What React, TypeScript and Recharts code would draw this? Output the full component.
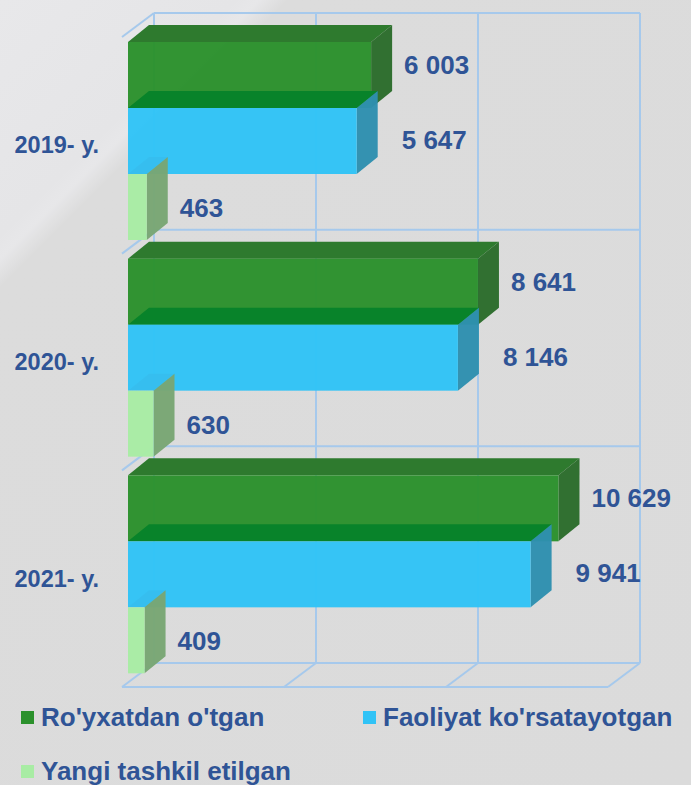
import { Bar, BarChart, CartesianGrid, LabelList, Legend, XAxis, YAxis } from "recharts";

const YEARS = ["2019- y.", "2020- y.", "2021- y."];
const REGISTERED = [6003, 8641, 10629];
const ACTIVE = [5647, 8146, 9941];
const CREATED = [463, 630, 409];
const SERIES_NAMES = ["Ro'yxatdan o'tgan", "Faoliyat ko'rsatayotgan", "Yangi tashkil etilgan"];
const SERIES_COLORS = ["#2b912c", "#31c3f6", "#a8eca4"];
const X_DOMAIN = [0, 12000];
const X_TICKS = [0, 4000, 8000, 12000];

const data = YEARS.map((year, i) => ({
  year,
  registered: REGISTERED[i],
  active: ACTIVE[i],
  created: CREATED[i],
}));

const TEXT = "#2f5496";
const FONT = "'Liberation Sans', Arial, sans-serif";
const GRID = "#a6c9ec";

// bar depth and wall offsets (relative to the bars' front plane)
const BAR_DX = 21;
const BAR_DY = -17;
const BACK_DX = 26;
const BACK_DY = -20;
const FRONT_DX = -6;
const FRONT_DY = 4;

const fmt = (v: number) => String(v).replace(/\B(?=(\d{3})+(?!\d))/g, " ");

function box(front: string, top: string, topOpacity: number, side: string) {
  return (props: any) => {
    const { x, y, width, height } = props;
    if (!width || width <= 0) return null;
    const r = x + width;
    return (
      <g>
        <polygon
          points={`${x},${y} ${x + BAR_DX},${y + BAR_DY} ${r + BAR_DX},${y + BAR_DY} ${r},${y}`}
          fill={top}
          fillOpacity={topOpacity}
        />
        <polygon
          points={`${r},${y} ${r + BAR_DX},${y + BAR_DY} ${r + BAR_DX},${y + height + BAR_DY} ${r},${y + height}`}
          fill={side}
          fillOpacity={0.97}
        />
        <rect x={x} y={y} width={width} height={height} fill={front} fillOpacity={0.97} />
      </g>
    );
  };
}

function valueLabel(dx: number, dy: number) {
  return (props: any) => {
    const { x, y, width, height, value } = props;
    return (
      <text
        x={x + width + BAR_DX + dx}
        y={y + height / 2 + dy}
        dominantBaseline="central"
        fill={TEXT}
        fontSize={26}
        fontWeight={700}
        fontFamily={FONT}
      >
        {fmt(value)}
      </text>
    );
  };
}

// x positions of the grid lines, from the x axis scale
function verticalCoords(args: any) {
  const scale = args?.xAxis?.scale;
  if (typeof scale === "function") return X_TICKS.map((t) => scale(t));
  if (scale && typeof scale.map === "function") return X_TICKS.map((t) => scale.map(t));
  const { left, width } = args.offset;
  return X_TICKS.map((t) => left + ((t - X_DOMAIN[0]) / (X_DOMAIN[1] - X_DOMAIN[0])) * width);
}

// draws the 3D frame: back wall, left wall and floor lines
function gridLine(p: any) {
  const top = p.y;
  const bottom = p.y + p.height;
  const left = p.x;
  const right = p.x + p.width;
  const xt = p.x1;
  const lines: any[] = [
    [xt + BACK_DX, top + BACK_DY, xt + BACK_DX, bottom + BACK_DY],
    [xt + FRONT_DX, bottom + FRONT_DY, xt + BACK_DX, bottom + BACK_DY],
  ];
  if (p.index === 0) {
    lines.push([left + FRONT_DX, bottom + FRONT_DY, right + FRONT_DX, bottom + FRONT_DY]);
    for (let i = 0; i <= YEARS.length; i++) {
      const yb = top + (p.height * i) / YEARS.length;
      lines.push([left + BACK_DX, yb + BACK_DY, right + BACK_DX, yb + BACK_DY]);
      if (i < YEARS.length) lines.push([left + FRONT_DX, yb + FRONT_DY, left + BACK_DX, yb + BACK_DY]);
    }
  }
  return (
    <g key={p.key}>
      {lines.map((l, i) => (
        <line key={i} x1={l[0]} y1={l[1]} x2={l[2]} y2={l[3]} stroke={GRID} strokeWidth={2} />
      ))}
    </g>
  );
}

function YearTick(props: any) {
  const { x, y, payload } = props;
  return (
    <text x={x - 1} y={y + 4} textAnchor="end" dominantBaseline="central" fill={TEXT} fontSize={23.5} fontWeight={700} fontFamily={FONT}>
      {payload.value}
    </text>
  );
}

function LegendContent() {
  return (
    <div
      style={{
        display: "grid",
        gridTemplateColumns: "342px auto",
        gridAutoRows: "34px",
        rowGap: 20,
        paddingLeft: 21,
        fontFamily: FONT,
        fontWeight: 700,
        fontSize: 26,
        color: TEXT,
        textAlign: "left",
      }}
    >
      {SERIES_NAMES.map((name, i) => (
        <div key={name} style={{ display: "flex", alignItems: "center", gap: 7, whiteSpace: "nowrap" }}>
          <span style={{ width: 13, height: 13, background: SERIES_COLORS[i], display: "inline-block" }} />
          <span>{name}</span>
        </div>
      ))}
    </div>
  );
}

export default function App() {
  return (
    <div
      style={{
        position: "absolute",
        left: 0,
        top: 0,
        width: 691,
        height: 785,
        background:
          "linear-gradient(135deg, #e8e8ea 0%, #e5e5e7 16%, #e7e7e9 17.5%, #dcdcdc 19.5%, #dbdbdb 100%)",
      }}
    >
      <BarChart
        width={691}
        height={785}
        data={data}
        layout="vertical"
        margin={{ top: 33, right: 77, bottom: 102, left: 28 }}
        barCategoryGap={9}
        barGap={0}
      >
        <CartesianGrid vertical={gridLine} horizontal={false} verticalCoordinatesGenerator={verticalCoords} />
        <XAxis
          type="number"
          domain={X_DOMAIN}
          ticks={X_TICKS}
          interval={0}
          height={0}
          tick={false}
          axisLine={false}
          tickLine={false}
        />
        <YAxis
          type="category"
          dataKey="year"
          width={100}
          axisLine={false}
          tickLine={false}
          tickSize={0}
          tickMargin={28}
          tick={<YearTick />}
        />
        <Legend
          layout="horizontal"
          verticalAlign="middle"
          align="center"
          wrapperStyle={{ top: 700, left: 0, width: 691 }}
          content={LegendContent}
        />
        <Bar dataKey="registered" name={SERIES_NAMES[0]} fill={SERIES_COLORS[0]} isAnimationActive={false}
          shape={box(SERIES_COLORS[0], "#2e7a2e", 1, "#2b6c2b")}>
          <LabelList dataKey="registered" content={valueLabel(12, -10)} />
        </Bar>
        <Bar dataKey="active" name={SERIES_NAMES[1]} fill={SERIES_COLORS[1]} isAnimationActive={false}
          shape={box(SERIES_COLORS[1], "#08832a", 1, "#2e8fb0")}>
          <LabelList dataKey="active" content={valueLabel(24, -1)} />
        </Bar>
        <Bar dataKey="created" name={SERIES_NAMES[2]} fill={SERIES_COLORS[2]} isAnimationActive={false}
          shape={box(SERIES_COLORS[2], "#3aa0d0", 0.15, "#79a674")}>
          <LabelList dataKey="created" content={valueLabel(12, 1)} />
        </Bar>
      </BarChart>
    </div>
  );
}
